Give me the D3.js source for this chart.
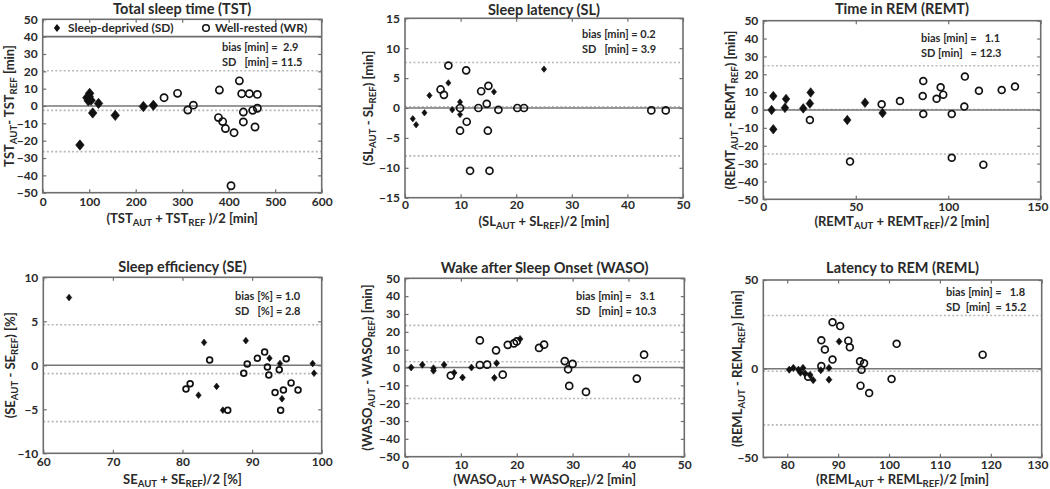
<!DOCTYPE html>
<html><head><meta charset="utf-8">
<script src="https://cdn.jsdelivr.net/npm/d3@7"></script>
<style>
body{margin:0;background:#fff;}
svg{display:block;font-family:Lato,"Open Sans",sans-serif;font-weight:bold;}
text{white-space:pre;}
</style></head>
<body>
<svg id="chart" width="1050" height="489"></svg>
<script>
// ---------- DATA ----------
const tstXTicks = [0,100,200,300,400,500,600];
const tstYTicks = [-50,-40,-30,-20,-10,0,10,20,30,40,50];
const tstSD = [[80,-22.5],[101,7.3],[95,4.8],[104,3.3],[100,5.5],[98,3],[120,1.5],[107.5,-4],[156,-5.4],[216.5,-0.3],[238,0.4]];
const tstWR = [[261,4.8],[290,7.3],[312,-2.3],[324,0.5],[380,9.2],[378,-6.7],[387,-9],[393,-13],[411.5,-15.4],[405,-46],[423,14.5],[428,7.1],[431.5,-3.5],[431.5,-9.2],[444.4,7.1],[451.6,-2.5],[461.6,6.7],[461.6,-1.3],[456.6,-12.1]];
const tstLimits = [20.3,-2.5,-26.3];

const slXTicks = [0,10,20,30,40,50];
const slYTicks = [-15,-10,-5,0,5,10,15];
const slSD = [[1.4,-1.8],[2.0,-2.8],[3.5,-0.8],[4.4,2.1],[7.8,4.2],[8.5,-0.3],[9.9,1.0],[9.9,-1.1],[16,2.7],[25,6.5]];
const slWR = [[7.8,7.1],[6.4,3.1],[7.0,2.2],[11.0,6.3],[9.9,0],[9.9,-3.8],[11.1,-2.3],[11.7,-10.5],[13.2,0],[13.7,2.8],[14.7,0.7],[15.0,3.7],[14.9,-3.8],[15.2,-10.5],[16.8,-0.3],[20.2,0],[21.4,0],[44.3,-0.4],[46.9,-0.4]];
const slLimits = [7.6,0.2,-8.0];

const remtXTicks = [0,50,100,150];
const remtYTicks = [-50,-40,-30,-20,-10,0,10,20,30,40,50];
const remtSD = [[5.4,7.8],[4.5,0],[5.4,-10.8],[12.3,6.2],[11.7,1.2],[21.6,0.9],[25.6,9.8],[25.2,3.6],[45.4,-5.6],[55,4.1],[64.5,-1.7]];
const remtWR = [[25.2,-5.6],[46.9,-28.9],[64,3.2],[73.9,5],[86.5,16.2],[86.2,7.8],[86.5,-2.2],[93.7,6.3],[95.9,12.7],[97.3,8.6],[101.9,-2.2],[101.9,-26.7],[109,18.7],[108.7,1.9],[116.6,10.8],[119,-30.6],[128.9,11.2],[136.1,13.1]];
const remtLimits = [24.8,0.3,-24.6];

const seXTicks = [60,70,80,90,100];
const seYTicks = [-10,-5,0,5,10];
const seSD = [[63.7,7.7],[83.1,2.6],[82.3,-3.4],[84.9,-2.4],[85.8,-5.1],[89.1,2.8],[92.5,0.8],[94.0,0.2],[94.3,-3.8],[98.7,0.2],[98.9,-0.9]];
const seWR = [[80.5,-2.7],[81.1,-2.1],[83.9,0.6],[86.5,-5.1],[88.8,-0.9],[89.3,0.15],[90.75,0.8],[91.8,1.5],[92.2,-0.2],[92.4,-1.1],[93.3,-3.1],[93.9,-0.5],[94.5,-2.8],[94.1,-5.1],[94.9,0.75],[95.6,-2.0],[96.6,-2.8]];
const seLimits = [4.6,-0.95,-6.4];

const wasoXTicks = [0,10,20,30,40,50];
const wasoYTicks = [-50,-40,-30,-20,-10,0,10,20,30,40,50];
const wasoSD = [[1.1,0],[3.1,1.5],[5.1,-0.4],[5.1,-1.8],[7.0,1.5],[8.8,-3.0],[10.3,-5.6],[11.9,0],[16.4,2.4],[16.0,-5.8],[20.6,16.0]];
const wasoWR = [[8.2,-4.5],[13.4,15.2],[13.4,1.4],[14.7,1.6],[16.3,9.6],[17.5,-4.0],[18.4,12.7],[19.5,13.5],[20.0,14.6],[24.0,11.0],[24.9,12.8],[28.6,3.6],[29.2,-1.0],[29.4,-10.3],[30.0,2.0],[32.4,-13.7],[41.5,-6.2],[42.8,7.2]];
const wasoLimits = [23.6,3.2,-17.4];

const remlXTicks = [80,90,100,110,120,130];
const remlYTicks = [-50,0,50];
const remlSD = [[80.4,-0.6],[81.2,0.4],[82.2,-0.6],[82.6,-2.3],[83.1,0.4],[83.5,-2.8],[84.5,-3.6],[85.1,-6.5],[86.6,-0.9],[88.2,0.4],[88.2,-6.2],[90.2,15.3]];
const remlWR = [[84.1,-4.5],[86.7,1.5],[86.7,16],[87.4,10.8],[88.9,5.1],[88.9,26.2],[90.4,24],[92.0,15.8],[92.3,12.1],[94.3,4.2],[95.1,3.0],[94.6,-0.6],[94.4,-9.6],[96.1,-13.8],[100.5,-5.8],[101.5,14],[118.4,7.9]];
const remlLimits = [30,-1.5,-31.7];

// ---------- LAYOUT ----------
const panels = [
 {title:"Total sleep time (TST)", titleY:8.5, L:42.7,R:321.7,T:19.3,B:192.7, xd:[0,600], yd:[-50,50],
  xt:tstXTicks, yt:tstYTicks, sd:tstSD, wr:tstWR, lim:tstLimits, dW:4.3,dH:5.2, cr:3.6, legend:true,
  xlab:[["(TST"],["AUT",1],[" + TST"],["REF",1],[" )/2 [min]"]], xlY:218, xtY:202,
  ylab:[["TST"],["AUT",1],["- TST"],["REF",1],[" [min]"]], ylX:9,
  stats:["bias [min] =  2.9","SD   [min] = 11.5"], sx:222, sy:[47,62]},
 {title:"Sleep latency (SL)", titleY:10, L:405,R:683,T:18.3,B:197.7, xd:[0,50], yd:[-15,15],
  xt:slXTicks, yt:slYTicks, sd:slSD, wr:slWR, lim:slLimits, dW:2.6,dH:3.2, cr:3.5,
  xlab:[["(SL"],["AUT",1],[" + SL"],["REF",1],[")/2 [min]"]], xlY:221, xtY:205,
  ylab:[["(SL"],["AUT",1],[" - SL"],["REF",1],[") [min]"]], ylX:368,
  stats:["bias [min] = 0.2","SD   [min] = 3.9"], sx:582, sy:[34,49]},
 {title:"Time in REM (REMT)", titleY:9, L:763.3,R:1040.7,T:20.7,B:199.3, xd:[0,150], yd:[-50,50],
  xt:remtXTicks, yt:remtYTicks, sd:remtSD, wr:remtWR, lim:remtLimits, dW:3.8,dH:4.8, cr:3.4,
  xlab:[["(REMT"],["AUT",1],[" + REMT"],["REF",1],[")/2 [min]"]], xlY:221, xtY:207,
  ylab:[["(REMT"],["AUT",1],[" - REMT"],["REF",1],[") [min]"]], ylX:730,
  stats:["bias [min] =   1.1","SD [min]   = 12.3"], sx:921, sy:[38,53]},
 {title:"Sleep efficiency (SE)", titleY:267, L:43.3,R:321.7,T:277.3,B:453.3, xd:[60,100], yd:[-10,10],
  xt:seXTicks, yt:seYTicks, sd:seSD, wr:seWR, lim:seLimits, dW:2.7,dH:3.4, cr:2.9,
  xlab:[["SE"],["AUT",1],[" + SE"],["REF",1],[")/2 [%]"]], xlY:479, xtY:461.5,
  ylab:[["(SE"],["AUT",1],[" - SE"],["REF",1],[") [%]"]], ylX:10,
  stats:["bias [%] = 1.0","SD   [%] = 2.8"], sx:235, sy:[296,311]},
 {title:"Wake after Sleep Onset (WASO)", titleY:268, L:405,R:684.3,T:278.3,B:456.7, xd:[0,50], yd:[-50,50],
  xt:wasoXTicks, yt:wasoYTicks, sd:wasoSD, wr:wasoWR, lim:wasoLimits, dW:2.9,dH:3.5, cr:3.5,
  xlab:[["(WASO"],["AUT",1],[" + WASO"],["REF",1],[")/2 [min]"]], xlY:479, xtY:465,
  ylab:[["(WASO"],["AUT",1],[" - WASO"],["REF",1],[") [min]"]], ylX:367,
  stats:["bias [min] =   3.1","SD   [min] = 10.3"], sx:576, sy:[296,311]},
 {title:"Latency to REM (REML)", titleY:268, L:763.3,R:1041.7,T:280,B:457.3, xd:[75.3,130], yd:[-50,50],
  xt:remlXTicks, yt:remlYTicks, sd:remlSD, wr:remlWR, lim:remlLimits, dW:3.0,dH:3.6, cr:3.4,
  xlab:[["(REML"],["AUT",1],[" + REML"],["REF",1],[")/2 [min]"]], xlY:479, xtY:465,
  ylab:[["(REML"],["AUT",1],[" - REML"],["REF",1],[") [min]"]], ylX:737,
  stats:["bias [min] =   1.8","SD  [min]  = 15.2"], sx:946, sy:[292,307]}
];

const svg = d3.select("#chart");
const frameCol = "#6e6e6e", textCol = "#2a2a2a";
const W = 1050;

function rich(sel, parts, fs){
  let sub = false;
  parts.forEach(([t,s])=>{
    const ts = sel.append("tspan").text(t);
    s = !!s;
    if (s && !sub) ts.attr("dy", fs*0.3);
    if (!s && sub) ts.attr("dy", -fs*0.3);
    if (s) ts.attr("font-size", fs*0.74);
    sub = s;
  });
}

panels.forEach(p=>{
  const x = d3.scaleLinear().domain(p.xd).range([p.L,p.R]);
  const y = d3.scaleLinear().domain(p.yd).range([p.B,p.T]);
  const g = svg.append("g");

  // reference lines
  p.lim.forEach(v=>{
    g.append("line").attr("x1",p.L).attr("x2",p.R).attr("y1",y(v)).attr("y2",y(v))
     .attr("stroke","#b8b8b8").attr("stroke-width",1.6).attr("stroke-dasharray","2,2.2");
  });
  g.append("line").attr("x1",p.L).attr("x2",p.R).attr("y1",y(0)).attr("y2",y(0))
   .attr("stroke","#777").attr("stroke-width",1.5);

  // axes (inward ticks on all sides)
  const ax = (axis, tr, ticks, labels)=>{
    const a = g.append("g").attr("transform",tr)
      .call(axis.tickValues(ticks).tickSizeInner(-3.5).tickSizeOuter(0).tickPadding(5)
            .tickFormat(labels? d=>String(d).replace("-","\u2212") : ""));
    a.select(".domain").remove();
    a.selectAll(".tick line").attr("stroke",frameCol).attr("stroke-width",1.2);
    a.selectAll(".tick text").attr("fill",textCol).attr("font-size",12)
      .attr("font-family","Lato, sans-serif").attr("font-weight","bold");
    return a;
  };
  const xb = ax(d3.axisBottom(x), `translate(0,${p.B})`, p.xt, true);
  xb.selectAll(".tick text").attr("y", p.xtY - p.B).attr("dy","0.35em");
  // keep edge labels inside the page
  xb.selectAll(".tick text").each(function(d){
    const w = this.getComputedTextLength();
    const right = x(d) + w/2;
    if (right > W - 2) d3.select(this).attr("x", (W - 2) - right);
  });
  ax(d3.axisTop(x), `translate(0,${p.T})`, p.xt, false);
  ax(d3.axisLeft(y), `translate(${p.L},0)`, p.yt, true);
  ax(d3.axisRight(y), `translate(${p.R},0)`, p.yt, false);

  // frame
  g.append("rect").attr("x",p.L).attr("y",p.T).attr("width",p.R-p.L).attr("height",p.B-p.T)
   .attr("fill","none").attr("stroke",frameCol).attr("stroke-width",1.6);

  // markers
  const dia = (w,h)=>`M0,${-h}L${w},0L0,${h}L${-w},0Z`;
  g.selectAll("path.sd").data(p.sd).enter().append("path").attr("class","sd")
   .attr("d",dia(p.dW,p.dH)).attr("transform",d=>`translate(${x(d[0])},${y(d[1])})`)
   .attr("fill","#111").attr("stroke","#111").attr("stroke-width",0.6);
  g.selectAll("circle.wr").data(p.wr).enter().append("circle").attr("class","wr")
   .attr("cx",d=>x(d[0])).attr("cy",d=>y(d[1])).attr("r",p.cr)
   .attr("fill","none").attr("stroke","#111").attr("stroke-width",1.7);

  // title
  g.append("text").attr("x",(p.L+p.R)/2).attr("y",p.titleY).attr("dy","0.35em")
   .attr("text-anchor","middle").attr("font-size",14.5).attr("fill",textCol).text(p.title);
  // x label
  const xl = g.append("text").attr("x",(p.L+p.R)/2).attr("y",p.xlY).attr("dy","0.35em")
   .attr("text-anchor","middle").attr("font-size",13).attr("fill",textCol);
  rich(xl, p.xlab, 13);
  // y label
  const yl = g.append("text").attr("transform",`translate(${p.ylX},${(p.T+p.B)/2}) rotate(-90)`)
   .attr("dy","0.35em").attr("text-anchor","middle").attr("font-size",13).attr("fill",textCol);
  rich(yl, p.ylab, 13);
  // stats
  p.stats.forEach((s,i)=>{
    g.append("text").attr("x",p.sx).attr("y",p.sy[i]).attr("dy","0.35em")
     .attr("font-size",11).attr("fill",textCol).text(s);
  });

  // legend (TST only)
  if (p.legend){
    g.append("line").attr("x1",p.L).attr("x2",p.R).attr("y1",y(40)).attr("y2",y(40))
     .attr("stroke",frameCol).attr("stroke-width",1.6);
    const ly = (y(50)+y(40))/2;
    g.append("path").attr("d",dia(3.2,4)).attr("transform",`translate(57,${ly})`).attr("fill","#111");
    g.append("text").attr("x",68).attr("y",ly).attr("dy","0.35em").attr("font-size",12).attr("fill",textCol).text("Sleep-deprived (SD)");
    g.append("circle").attr("cx",206).attr("cy",ly).attr("r",3.3).attr("fill","none").attr("stroke","#111").attr("stroke-width",1.5);
    g.append("text").attr("x",215).attr("y",ly).attr("dy","0.35em").attr("font-size",12).attr("fill",textCol).text("Well-rested (WR)");
  }
});
</script>
</body></html>
